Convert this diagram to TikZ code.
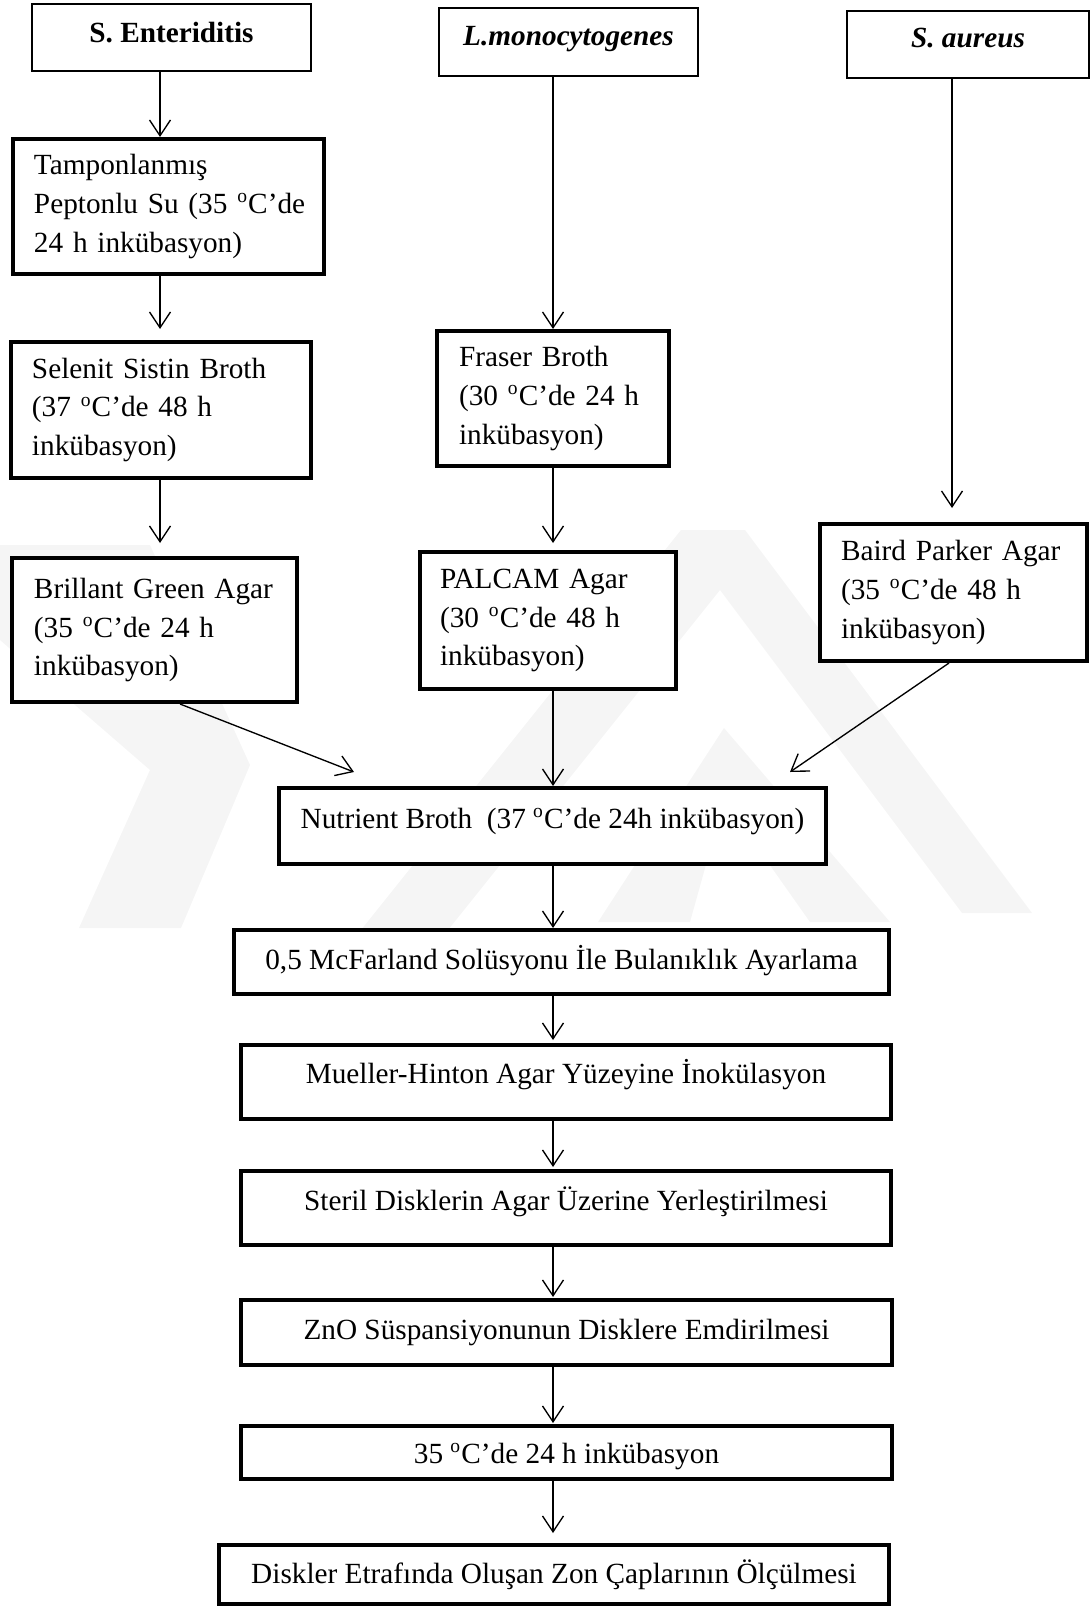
\documentclass[tikz,border=0pt]{standalone}
\usepackage{fontspec}
\setmainfont{Liberation Serif}
\usetikzlibrary{arrows.meta,calc}
\newdimen\pxu \pxu=0.41pt
\newcommand\rz[2]{\raisebox{#1\pxu}[\height][\depth]{#2}}
\begin{document}
\begin{tikzpicture}[x=0.41pt,y=-0.41pt,
  txt/.style={font=\fontsize{12pt}{15.8pt}\selectfont},
  base/.style={draw, rectangle, inner sep=0pt, txt, fill=white},
  thinbox/.style={base, line width=0.55pt},
  thickbox/.style={base, line width=1.64pt},
  multi/.style={align=left},
  wmark/.style={fill=black!4, draw=none},
  arr/.style={line width=0.55pt, -{Straight Barb[length=6.5pt,width=8.6pt,line width=0.55pt]}},
]
\useasboundingbox (0,0) rectangle (1091,1609);

% faint background watermark
\fill[wmark] (0,545) -- (150,545) -- (250,765) -- (181,928) -- (79,928) -- (150,770) -- (0,640) -- cycle;
\fill[wmark] (361,930) -- (681,530) -- (745,530) -- (1032,913) -- (962,913) -- (720,590) -- (448,930) -- cycle;
\fill[wmark] (598,922) -- (724,728) -- (890,922) -- (810,922) -- (724,800) -- (690,922) -- cycle;

% top boxes
\node[thinbox, minimum width=279*\pxu, minimum height=67*\pxu] (se) at (171.5,37.5) {\rz{4.5}{\bfseries S. Enteriditis}};
\node[thinbox, minimum width=259*\pxu, minimum height=68*\pxu] (lm) at (568.5,42) {\rz{3}{\bfseries\itshape L.monocytogenes}};
\node[thinbox, minimum width=242*\pxu, minimum height=67*\pxu] (sa) at (968,44.5) {\rz{6.5}{\bfseries\itshape S. aureus}};

% left column
\node[thickbox, multi, text width=268*\pxu, minimum width=311*\pxu, minimum height=135*\pxu] (tp) at (168,206.5)
  {Tamponlanmış\\\mbox{Peptonlu Su (35 \textsuperscript{o}C’de}\\24 h inkübasyon)};
\node[thickbox, multi, text width=258*\pxu, minimum width=300*\pxu, minimum height=136*\pxu] (ss) at (161,410)
  {Selenit Sistin Broth\\(37 \textsuperscript{o}C’de 48 h\\inkübasyon)};
\node[thickbox, multi, text width=241*\pxu, minimum width=285*\pxu, minimum height=144*\pxu] (bg) at (154.5,630)
  {Brillant Green Agar\\(35 \textsuperscript{o}C’de 24 h\\inkübasyon)};

% middle column
\node[thickbox, multi, text width=188*\pxu, minimum width=232*\pxu, minimum height=135*\pxu] (fb) at (553,398.5)
  {Fraser Broth\\(30 \textsuperscript{o}C’de 24 h\\inkübasyon)};
\node[thickbox, multi, text width=216*\pxu, minimum width=256*\pxu, minimum height=137*\pxu] (pa) at (548,620.5)
  {PALCAM Agar\\(30 \textsuperscript{o}C’de 48 h\\inkübasyon)};

% right column
\node[thickbox, multi, text width=225*\pxu, minimum width=267*\pxu, minimum height=137*\pxu] (bp) at (953.5,592.5)
  {Baird Parker Agar\\(35 \textsuperscript{o}C’de 48 h\\inkübasyon)};

% lower chain
\node[thickbox, minimum width=547*\pxu, minimum height=76*\pxu] (nb) at (552.5,826)
  {\rz{5}{Nutrient Broth\ \ (37 \textsuperscript{o}C’de 24h inkübasyon)}};
\node[thickbox, minimum width=655*\pxu, minimum height=64*\pxu] (mf) at (561.5,962)
  {\rz{1}{0,5 McFarland Solüsyonu İle Bulanıklık Ayarlama}};
\node[thickbox, minimum width=650*\pxu, minimum height=74*\pxu] (mh) at (566,1082)
  {\rz{7}{Mueller-Hinton Agar Yüzeyine İnokülasyon}};
\node[thickbox, minimum width=650*\pxu, minimum height=74*\pxu] (st) at (566,1208)
  {\rz{6.7}{Steril Disklerin Agar Üzerine Yerleştirilmesi}};
\node[thickbox, minimum width=651*\pxu, minimum height=65*\pxu] (zn) at (566.5,1332.5)
  {ZnO Süspansiyonunun Disklere Emdirilmesi};
\node[thickbox, minimum width=651*\pxu, minimum height=53*\pxu] (inc) at (566.5,1452.5)
  {\rz{-4}{35 \textsuperscript{o}C’de 24 h inkübasyon}};
\node[thickbox, minimum width=670*\pxu, minimum height=59*\pxu] (dz) at (554,1574.5)
  {Diskler Etrafında Oluşan Zon Çaplarının Ölçülmesi};

% connector columns
\coordinate (cA) at (160,0);
\coordinate (cB) at (553,0);
\coordinate (cC) at (952,0);
\coordinate (bgS) at (180,0);
\coordinate (bpS) at (949,0);
\coordinate (nbL) at (354,772);
\coordinate (nbR) at (790,772);

\draw[arr] (se.south -| cA) -- (tp.north -| cA);
\draw[arr, shorten >=11*\pxu] (tp.south -| cA) -- (ss.north -| cA);
\draw[arr, shorten >=13*\pxu] (ss.south -| cA) -- (bg.north -| cA);

\draw[arr] (lm.south -| cB) -- (fb.north -| cB);
\draw[arr, shorten >=7*\pxu] (fb.south -| cB) -- (pa.north -| cB);
\draw[arr] (pa.south -| cB) -- (nb.north -| cB);

\draw[arr, shorten >=14*\pxu] (sa.south -| cC) -- (bp.north -| cC);

\draw[arr] (bg.south -| bgS) -- (nbL);
\draw[arr] (bp.south -| bpS) -- (nbR);

\draw[arr] (nb.south -| cB) -- (mf.north -| cB);
\draw[arr, shorten >=3*\pxu] (mf.south -| cB) -- (mh.north -| cB);
\draw[arr, shorten >=2*\pxu] (mh.south -| cB) -- (st.north -| cB);
\draw[arr, shorten >=1*\pxu] (st.south -| cB) -- (zn.north -| cB);
\draw[arr, shorten >=1*\pxu] (zn.south -| cB) -- (inc.north -| cB);
\draw[arr, shorten >=10*\pxu] (inc.south -| cB) -- (dz.north -| cB);
\end{tikzpicture}
\end{document}
